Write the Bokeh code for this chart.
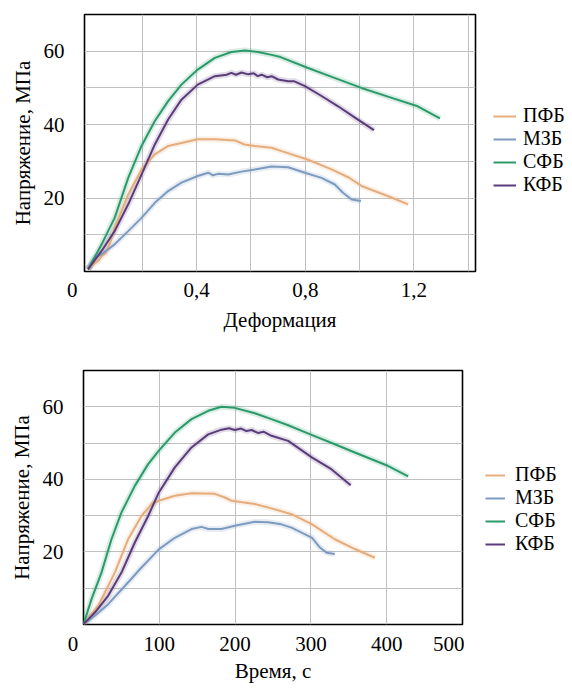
from bokeh.plotting import figure
from bokeh.models import FixedTicker, Legend, LegendItem, Range1d
from bokeh.layouts import column, row
from bokeh.embed import file_html
from bokeh.resources import INLINE

FONT = "Liberation Serif"
NBSP = "\u00a0"

series_names = ["ПФБ", "МЗБ", "СФБ", "КФБ"]
series_colors = ["#e6ac7b", "#7d9bc0", "#2b9a6a", "#5a3c7a"]

y_title = "Напряжение, МПа"
x_title_top = "Деформация"
x_title_bottom = "Время, с"

# ---------------- top chart: stress vs deformation ----------------
pfb_def_x = [0.0, 0.020, 0.038, 0.050, 0.065, 0.080, 0.098, 0.148, 0.197, 0.246, 0.295, 0.344, 0.404, 0.467,
             0.541, 0.576, 0.614, 0.676, 0.713, 0.808, 0.897, 0.960, 1.007, 1.106, 1.179]
pfb_def_y = [0.6, 2.0, 2.9, 4.2, 5.0, 7.5, 11.9, 21.0, 27.8, 31.9, 34.2, 35.0, 36.0, 36.0,
             35.7, 34.6, 34.2, 33.7, 32.8, 30.5, 27.8, 25.6, 23.3, 20.5, 18.3]

mzb_def_x = [0.0, 0.025, 0.050, 0.098, 0.148, 0.197, 0.246, 0.295, 0.344, 0.404, 0.443, 0.460, 0.479,
             0.516, 0.565, 0.614, 0.676, 0.737, 0.799, 0.860, 0.909, 0.940, 0.971, 1.005]
mzb_def_y = [0.6, 3.8, 4.7, 7.4, 11.0, 14.6, 18.7, 21.9, 24.2, 26.0, 26.9, 26.2, 26.6,
             26.4, 27.2, 27.8, 28.6, 28.4, 26.9, 25.5, 23.7, 21.4, 19.6, 19.2]

sfb_def_x = [0.0, 0.050, 0.098, 0.148, 0.197, 0.246, 0.295, 0.344, 0.404, 0.467, 0.528, 0.578,
             0.626, 0.676, 0.709, 0.808, 0.905, 1.007, 1.110, 1.214, 1.296]
sfb_def_y = [0.6, 7.4, 14.6, 25.5, 34.2, 41.0, 46.4, 50.9, 55.0, 58.2, 59.8, 60.2,
             59.8, 59.0, 58.4, 55.5, 52.8, 50.0, 47.5, 45.0, 41.7]

kfb_def_x = [0.0, 0.050, 0.098, 0.148, 0.197, 0.246, 0.295, 0.344, 0.404, 0.467, 0.510, 0.528, 0.545,
             0.565, 0.590, 0.610, 0.625, 0.639, 0.660, 0.676, 0.700, 0.737, 0.760, 0.799, 0.860,
             0.921, 0.983, 1.053]
kfb_def_y = [0.6, 5.6, 11.0, 18.3, 26.4, 34.6, 41.4, 46.8, 50.9, 53.2, 53.6, 54.1, 53.6,
             54.2, 53.7, 54.0, 53.2, 53.6, 52.9, 53.2, 52.3, 51.8, 51.8, 50.5, 47.8,
             45.0, 41.9, 38.5]

# ---------------- bottom chart: stress vs time ----------------
pfb_t_x = [0.0, 19.3, 41.3, 58.9, 76.5, 89.7, 99.4, 120.5, 142.5, 173.3, 186.5, 195.3, 226.0,
           248.0, 274.4, 301.7, 331.5, 358.0, 384.4]
pfb_t_y = [0.1, 5.1, 14.3, 23.5, 29.9, 33.2, 34.1, 35.5, 36.2, 36.0, 35.0, 34.1, 33.2,
           32.0, 30.4, 27.6, 23.5, 20.8, 18.4]

mzb_t_x = [0.0, 15.0, 32.5, 54.5, 76.5, 99.4, 120.5, 142.5, 155.8, 164.5, 182.0, 199.6, 226.0,
           243.5, 261.0, 274.4, 301.7, 311.9, 320.7, 331.5]
mzb_t_y = [0.1, 2.4, 5.6, 10.6, 15.7, 20.7, 23.9, 26.3, 26.9, 26.3, 26.3, 27.2, 28.3,
           28.2, 27.6, 26.7, 23.9, 21.2, 19.8, 19.4]

sfb_t_x = [0.0, 10.6, 23.7, 36.9, 50.1, 67.7, 85.3, 99.4, 120.5, 142.5, 164.5, 182.0, 199.6,
           226.0, 248.0, 270.0, 301.7, 330.0, 358.0, 399.7, 428.3]
sfb_t_y = [0.1, 7.0, 14.3, 23.5, 30.9, 38.2, 44.2, 47.9, 52.9, 56.6, 58.9, 60.0, 59.7,
           58.2, 56.6, 54.9, 52.2, 49.8, 47.4, 43.9, 40.8]

kfb_t_x = [0.0, 15.0, 32.5, 50.1, 67.7, 85.3, 99.4, 120.5, 142.5, 164.5, 182.0, 192.0, 199.6,
           208.0, 215.0, 222.0, 230.0, 238.0, 248.0, 270.0, 301.7, 327.0, 352.5]
kfb_t_y = [0.1, 3.3, 7.9, 14.3, 22.6, 29.9, 36.4, 43.3, 48.8, 52.4, 53.7, 54.1, 53.6,
           54.0, 53.3, 53.6, 52.8, 53.1, 52.0, 50.6, 46.0, 42.8, 38.4]

top_x_ticks = [0.0, 0.2, 0.4, 0.6, 0.8, 1.0, 1.2, 1.4]
top_x_labels = ["0", "", "0,4", "", "0,8", "", "1,2", ""]
bottom_x_ticks = [0, 100, 200, 300, 400, 500]
bottom_x_labels = ["0", "100", "200", "300", "400", "500"]
y_ticks = [10, 20, 30, 40, 50, 60]
y_labels = ["", "20", "", "40", "", "60"]


def make_fig(xs, ys, x_range, x_ticks, x_labels, zero_pad, grid_ticks, x_title,
             frame_w, frame_h, b_left, b_top, b_bottom, lab_so, title_so):
    p = figure(frame_width=frame_w, frame_height=frame_h, output_backend="svg", toolbar_location=None,
               x_range=Range1d(*x_range), y_range=Range1d(0, 70),
               min_border_left=b_left, min_border_right=2,
               min_border_top=b_top, min_border_bottom=b_bottom,
               background_fill_color="white", border_fill_color="white")
    p.outline_line_color = "black"
    p.outline_line_width = 1.6

    for x, y, c in zip(xs, ys, series_colors):
        p.line(x, y, line_color=c, line_width=6, line_alpha=0.18)
    for x, y, c in zip(xs, ys, series_colors):
        p.line(x, y, line_color=c, line_width=2)

    labels = dict(zip(x_ticks, x_labels))
    labels[x_ticks[0]] = labels[x_ticks[0]] + NBSP * zero_pad  # origin label sits left of x=0
    p.xaxis.ticker = FixedTicker(ticks=x_ticks)
    p.xaxis.major_label_overrides = labels
    p.yaxis.ticker = FixedTicker(ticks=y_ticks)
    p.yaxis.major_label_overrides = dict(zip(y_ticks, y_labels))
    p.xgrid.ticker = FixedTicker(ticks=grid_ticks)
    p.ygrid.ticker = FixedTicker(ticks=y_ticks)
    for g in (p.xgrid, p.ygrid):
        g.grid_line_color = "#c0c0c0"
        g.grid_line_width = 1

    for ax in (p.xaxis, p.yaxis):
        ax.axis_line_color = None
        ax.major_tick_line_color = None
        ax.minor_tick_line_color = None
        ax.major_label_text_font = FONT
        ax.major_label_text_font_size = "21px"
        ax.major_label_text_color = "black"
        ax.axis_label_text_font = FONT
        ax.axis_label_text_font_size = "21px"
        ax.axis_label_text_font_style = "normal"
        ax.axis_label_text_color = "black"

    p.xaxis.axis_label = x_title
    p.yaxis.axis_label = y_title
    p.xaxis.major_label_standoff = lab_so
    p.xaxis.axis_label_standoff = title_so
    p.yaxis.major_label_standoff = 14
    p.yaxis.axis_label_standoff = 6
    return p


def make_legend(xs, ys, width, height, loc, glyph_w, standoff):
    # separate panel holding the legend; series lie outside its (far away) ranges
    lp = figure(width=width, height=height, output_backend="svg", toolbar_location=None,
                x_axis_location=None, y_axis_location=None, min_border=0,
                x_range=Range1d(1000, 1001), y_range=Range1d(1000, 1001),
                background_fill_color="white", border_fill_color="white")
    lp.outline_line_color = None
    lp.grid.visible = False
    items = []
    for x, y, n, c in zip(xs, ys, series_names, series_colors):
        r = lp.line(x, y, line_color=c, line_width=2)
        items.append(LegendItem(label=n, renderers=[r]))
    leg = Legend(items=items, location=loc, orientation="vertical",
                 label_text_font=FONT, label_text_font_size="20px", label_text_color="black",
                 glyph_width=glyph_w, glyph_height=20, label_height=20, spacing=-1,
                 padding=0, margin=0, label_standoff=standoff,
                 border_line_color=None, background_fill_alpha=0)
    lp.add_layout(leg, "center")
    return lp


top_xs = [pfb_def_x, mzb_def_x, sfb_def_x, kfb_def_x]
top_ys = [pfb_def_y, mzb_def_y, sfb_def_y, kfb_def_y]
bot_xs = [pfb_t_x, mzb_t_x, sfb_t_x, kfb_t_x]
bot_ys = [pfb_t_y, mzb_t_y, sfb_t_y, kfb_t_y]

p1 = make_fig(top_xs, top_ys, (-0.013, 1.427), top_x_ticks, top_x_labels, 6, top_x_ticks[1:], x_title_top,
              391, 257, 84, 14, 77, 0, 3)
leg1 = make_legend(top_xs, top_ys, 92, 348, (16, 75), 23, 7)

p2 = make_fig(bot_xs, bot_ys, (0, 500), bottom_x_ticks, bottom_x_labels, 4, bottom_x_ticks[1:-1], x_title_bottom,
              379, 254, 83, 22, 60, 1, 0)
leg2 = make_legend(bot_xs, bot_ys, 100, 336, (21, 68), 20, 10)

layout = column(row(p1, leg1, spacing=0), row(p2, leg2, spacing=0), spacing=0)
open("out.html", "w").write(file_html(layout, INLINE))
